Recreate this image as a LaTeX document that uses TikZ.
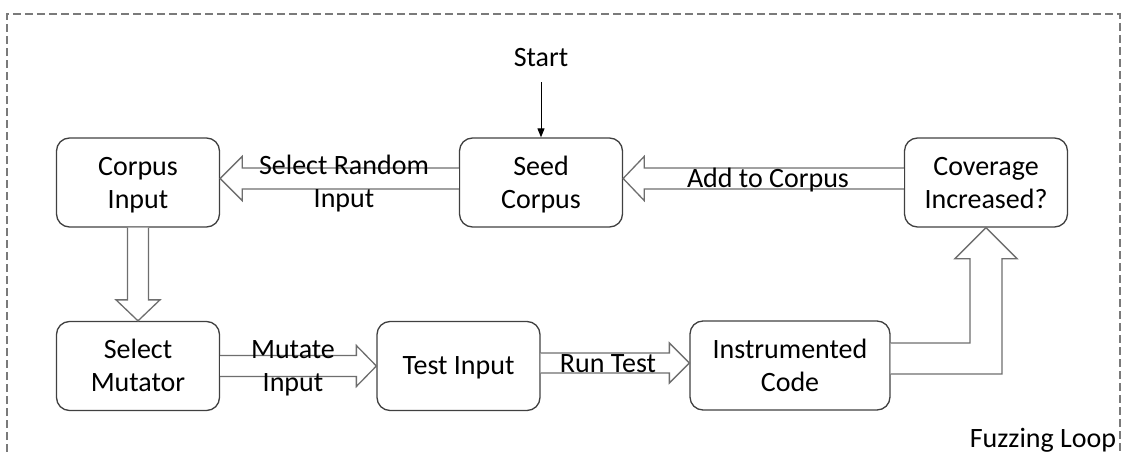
\documentclass[tikz,border=0pt]{standalone}
\usepackage{fontspec}
\setmainfont{Carlito}
\usetikzlibrary{calc,arrows.meta}
\definecolor{boxgray}{HTML}{404040}
\definecolor{arrowgray}{HTML}{6E6E6E}
\definecolor{framegray}{HTML}{7A7A7A}
\newcommand{\lblfont}{\fontsize{28}{33}\selectfont}
\begin{document}
\begin{tikzpicture}[x=1pt,y=-1pt,
  box/.style={draw=boxgray, line width=1.3pt, rounded corners=13pt,
    minimum width=163pt, minimum height=89pt, align=center, inner sep=0pt,
    font=\lblfont, text=black, text height=55pt, text depth=4pt},
  onebox/.style={box, text height=20pt, text depth=4pt},
  blockarrow/.style={draw=arrowgray, fill=white, line width=1.3pt, line join=miter},
  lbl/.style={font=\lblfont, align=center, inner sep=0pt, text=black},
  framestyle/.style={draw=framegray, line width=1.3pt, dash pattern=on 8pt off 4pt},
  startarrow/.style={draw=black, line width=1pt, -{Triangle[length=9pt,width=7pt]}}]
\useasboundingbox (0,0) rectangle (1122,452);
% frame
\draw[framestyle] (7,452) -- (7,14) -- (1120,14) -- (1120,452);
% boxes
\node[box] (corpus) at (138,182.5) {Corpus\\Input};
\node[box] (seed) at (541,182.5) {Seed\\Corpus};
\node[box] (cov) at (986,182.5) {Coverage\\Increased?};
\node[box] (mut) at (138,366) {Select\\Mutator};
\node[onebox] (test) at (458.5,366) {Test Input};
\node[box, minimum width=200pt] (inst) at (790,365.5) {Instrumented\\Code};
% start
\node[lbl] (start) at (541,58) {Start};
\draw[startarrow, shorten <=15pt] (start.south) -- (seed.north);
% seed -> corpus
\draw[blockarrow] ($(seed.west)+(0,-14.5)$) -- ($(corpus.east)+(22,-14.5)$)
  -- ($(corpus.east)+(22,-26)$) -- ($(corpus.east)+(0,-4)$)
  -- ($(corpus.east)+(22,18)$) -- ($(corpus.east)+(22,6.5)$)
  -- ($(seed.west)+(0,6.5)$);
% cov -> seed
\draw[blockarrow] ($(cov.west)+(0,-14.5)$) -- ($(seed.east)+(21,-14.5)$)
  -- ($(seed.east)+(21,-26)$) -- ($(seed.east)+(0,-4)$)
  -- ($(seed.east)+(21,18)$) -- ($(seed.east)+(21,6.5)$)
  -- ($(cov.west)+(0,6.5)$);
% corpus -> mut
\draw[blockarrow] ($(corpus.south)+(-10.5,0)$) -- ($(mut.north)+(-10.5,-21)$)
  -- ($(mut.north)+(-22,-21)$) -- (mut.north)
  -- ($(mut.north)+(22,-21)$) -- ($(mut.north)+(10.5,-21)$)
  -- ($(corpus.south)+(10.5,0)$);
% mut -> test
\draw[blockarrow] ($(mut.east)+(0,-10.5)$) -- ($(test.west)+(-20,-10.5)$)
  -- ($(test.west)+(-20,-20.5)$) -- (test.west)
  -- ($(test.west)+(-20,20.5)$) -- ($(test.west)+(-20,10.5)$)
  -- ($(mut.east)+(0,10.5)$);
% test -> inst
\draw[blockarrow] ($(test.east)+(0,-13)$) -- ($(inst.west)+(-20,-12.5)$)
  -- ($(inst.west)+(-20,-22.5)$) -- ($(inst.west)+(0,-2.5)$)
  -- ($(inst.west)+(-20,17.5)$) -- ($(inst.west)+(-20,7.5)$)
  -- ($(test.east)+(0,7)$);
% inst -> cov (elbow)
\draw[blockarrow] ($(inst.east)+(0,-22.5)$) -- ($(cov.south |- inst.east)+(-16,-22.5)$)
  -- ($(cov.south)+(-16,31)$) -- ($(cov.south)+(-31,31)$) -- (cov.south)
  -- ($(cov.south)+(31,31)$) -- ($(cov.south)+(16,31)$)
  -- ($(cov.south |- inst.east)+(16,8.5)$) -- ($(inst.east)+(0,8.5)$);
% labels
\node[lbl] (lsr) at (344,183.5) {Select Random\\Input};
\node[lbl] (lac) at (768,180) {Add to Corpus};
\node[lbl] (lmi) at (293,368.5) {Mutate\\Input};
\node[lbl] (lrt) at (608,364) {Run Test};
\node[lbl] (lfl) at (1043,440) {Fuzzing Loop};
\end{tikzpicture}
\end{document}
